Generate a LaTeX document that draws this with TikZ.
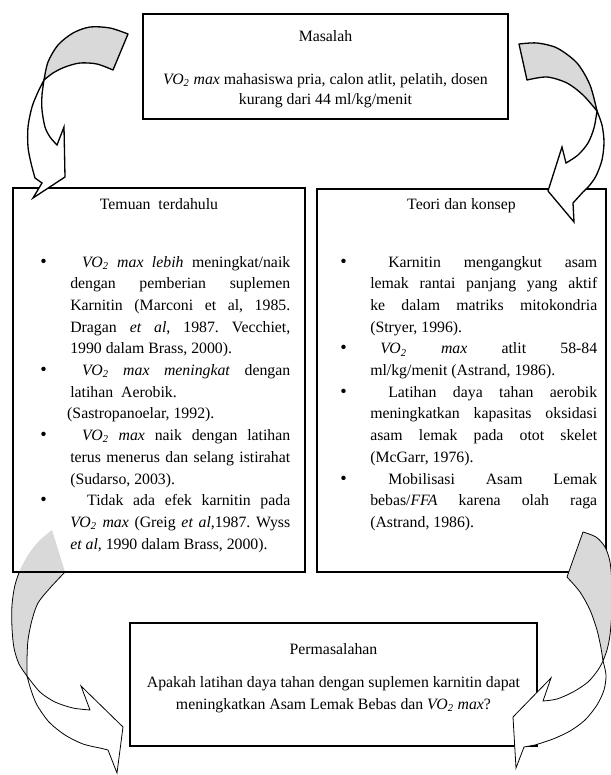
\documentclass[tikz,border=0pt]{standalone}
\usepackage{fontspec}
\setmainfont{Liberation Serif}
\definecolor{abuabu}{RGB}{217,217,217}
\begin{document}
\frenchspacing
\begin{tikzpicture}[x=0.76pt,y=-0.76pt]
    \tikzstyle{kotak}=[draw,line width=1.2pt,rectangle,inner sep=0]
    \tikzstyle{judul}=[anchor=base,inner sep=0,font=\fontsize{12}{15}\selectfont]
    \tikzstyle{tengah}=[anchor=base,inner sep=0,align=center]
    \tikzstyle{butir}=[anchor=base west,inner sep=0,align=justify,font={\fontsize{12}{16.49}\selectfont\tolerance=10000 \hyphenpenalty=10000 }]
    \tikzstyle{titik}=[anchor=base west,inner sep=0,font=\fontsize{14}{15}\selectfont]
    \tikzstyle{belakang}=[draw,fill=abuabu,line width=1pt,line join=round]
    \tikzstyle{depan}=[draw,fill=white,line width=1pt,line join=miter]
    \newcommand{\poin}[5]{
        \path (#1,#2) node[titik] (#3b) {\textbullet};
        \path (#1,#2) ++(30,0) node[butir,text width=#4] (#3) {#5};
    }
    \useasboundingbox (0,0) rectangle (611,775);
    \fill[abuabu] plot[smooth] coordinates {(52,530) (40,540) (30,552) (21,568) (15,585) (12,605) (12,628) (14,648) (19,664) (27,676)} -- plot[smooth] coordinates {(27,676) (27,660) (28,640) (32,620) (38,603) (50,588) (65,572)} -- cycle;
    \begin{scope}
        \clip (0,572) rectangle (611,775);
        \draw[line width=0.6pt] plot[smooth] coordinates {(52,530) (40,540) (30,552) (21,568) (15,585) (12,605) (12,628) (14,648) (19,664) (27,676)};
        \draw[line width=0.6pt] plot[smooth] coordinates {(27,676) (27,660) (28,640) (32,620) (38,603) (50,588) (65,572)};
    \end{scope}
    \filldraw[depan,line width=0.6pt] plot[smooth] coordinates {(27,676) (31,690) (37,705) (49,722) (65,735) (83,744) (100,748)} -- (108,750) -- (117,773) -- (123,727) -- (81,686) -- (90,710) -- plot[smooth] coordinates {(90,710) (73,708) (55,702) (40,692) (27,676)} -- cycle;
    \path (325.5,66.5) node[kotak,minimum width=277.4pt,minimum height=79.8pt] (masalah) {};
    \path (159,380) node[kotak,minimum width=221.9pt,minimum height=291.8pt] (temuan) {};
    \path (461.5,380.5) node[kotak,minimum width=219.6pt,minimum height=291.1pt] (teori) {};
    \path (333.5,684.5) node[kotak,minimum width=309.3pt,minimum height=93.5pt] (permasalahan) {};
    \filldraw[belakang] plot[smooth] coordinates {(128,34) (110,28) (90,27) (73,33) (58,45) (48,62) (44,80)} -- plot[smooth] coordinates {(44,80) (53,73) (65,67) (80,63) (97,64) (113,70)} -- cycle;
    \filldraw[depan] plot[smooth] coordinates {(44,80) (38,92) (32,107) (28,127) (28,147) (31,163) (35,178)} -- (42,183) -- (33,198) -- (65,177) -- (64,127) -- (57,145) -- plot[smooth] coordinates {(57,145) (50,137) (45,127) (42,110) (42,95) (44,80)} -- cycle;
    \filldraw[belakang] plot[smooth] coordinates {(519,44) (537,43) (557,48) (577,63) (590,85) (597,111)} -- plot[smooth] coordinates {(597,111) (583,95) (567,83) (547,77) (527,80)} -- cycle;
    \filldraw[depan] plot[smooth] coordinates {(597,111) (602,125) (604,142) (602,160) (596,176) (589,186) (583,192)} -- (573,203) -- (574,222) -- (548,191) -- (562,147) -- (566,163) -- plot[smooth] coordinates {(566,163) (578,155) (588,143) (594,128) (597,111)} -- cycle;
    \filldraw[belakang,line width=0.6pt] plot[smooth] coordinates {(583,532) (596,537) (605,547) (610,562) (612,585) (612,610) (610,635) (607,650) (603,661)} -- plot[smooth] coordinates {(603,661) (601,648) (597,630) (590,610) (580,592) (567,577)} -- cycle;
    \filldraw[depan,line width=0.6pt] plot[smooth] coordinates {(603,661) (606,675) (604,690) (597,705) (585,720) (570,731) (553,739) (535,745)} -- (524,747) -- (516,768) -- (513,717) -- (551,678) -- (543,701) -- plot[smooth] coordinates {(543,701) (557,699) (573,692) (588,682) (598,670) (603,661)} -- cycle;
    \path (325.5,41) node[judul] (tmasalah) {Masalah};
    \path (325.5,104) node[tengah,font=\fontsize{12}{15.2}\selectfont] (imasalah) {\textit{VO\textsubscript{2} max} mahasiswa pria, calon atlit, pelatih, dosen\\kurang dari 44 ml/kg/menit};
    \path (159,209) node[judul] (ttemuan) {Temuan\ \ terdahulu};
    \path (461.5,209) node[judul] (tteori) {Teori dan konsep};
    \poin{40}{267}{tem1}{167.2pt}{\hspace*{9.1pt}\textit{VO\textsubscript{2} max lebih} meningkat/naik\linebreak dengan pemberian suplemen\linebreak Karnitin (Marconi et al, 1985.\linebreak Dragan \textit{et al}, 1987. Vecchiet,\linebreak 1990 dalam Brass, 2000).}
    \poin{40}{375.5}{tem2}{167.2pt}{\hspace*{9.1pt}\textit{VO\textsubscript{2} max meningkat} dengan\linebreak latihan\ \ Aerobik.\\\hspace*{-2.3pt}(Sastropanoelar, 1992).}
    \poin{40}{440.6}{tem3}{167.2pt}{\hspace*{9.1pt}\textit{VO\textsubscript{2} max} naik dengan latihan\linebreak terus menerus dan selang istirahat\linebreak (Sudarso, 2003).}
    \poin{40}{505.7}{tem4}{167.2pt}{\hspace*{12.9pt}Tidak ada efek karnitin pada\linebreak \textit{VO\textsubscript{2} max} (Greig \textit{et al},1987. Wyss\linebreak \textit{et al}, 1990 dalam Brass, 2000).}
    \poin{340}{267}{teo1}{172.5pt}{\hspace*{13.7pt}Karnitin mengangkut asam\linebreak lemak rantai panjang yang aktif\linebreak ke dalam matriks mitokondria\linebreak (Stryer, 1996).}
    \poin{340}{353.8}{teo2}{172.5pt}{\hspace*{7.6pt}\textit{VO\textsubscript{2} max} atlit 58-84\linebreak ml/kg/menit (Astrand, 1986).}
    \poin{340}{397.2}{teo3}{172.5pt}{\hspace*{13.7pt}Latihan daya tahan aerobik\linebreak meningkatkan kapasitas oksidasi\linebreak asam lemak pada otot skelet\linebreak (McGarr, 1976).}
    \poin{340}{484}{teo4}{172.5pt}{\hspace*{13.7pt}Mobilisasi Asam Lemak\linebreak bebas/\textit{FFA} karena olah raga\linebreak (Astrand, 1986).}
    \path (333.5,654) node[judul] (tpermasalahan) {Permasalahan};
    \path (333.5,709) node[tengah,font=\fontsize{12}{16}\selectfont] (ipermasalahan) {Apakah latihan daya tahan dengan suplemen karnitin dapat\\meningkatkan Asam Lemak Bebas dan \textit{VO\textsubscript{2} max}?};
\end{tikzpicture}
\end{document}
